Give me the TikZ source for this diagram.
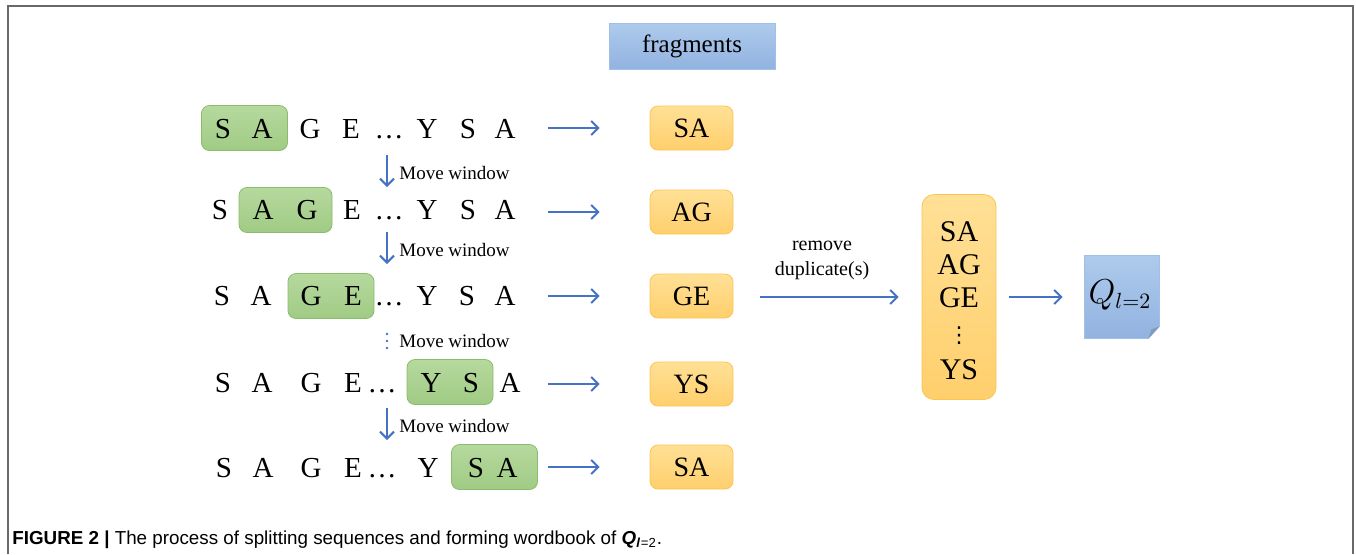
\documentclass[tikz,border=0pt]{standalone}
\usepackage{fontspec}
\setmainfont{Liberation Serif}
\newfontfamily\capfont{Liberation Sans}
\newfontfamily\symfont{DejaVu Sans}
\usetikzlibrary{arrows.meta}

\definecolor{wintop}{RGB}{182,217,158}
\definecolor{winbot}{RGB}{160,203,132}
\definecolor{winline}{RGB}{138,188,108}
\definecolor{fragtop}{RGB}{255,224,150}
\definecolor{fragbot}{RGB}{255,207,108}
\definecolor{fragline}{RGB}{252,196,80}
\definecolor{headtop}{RGB}{174,203,236}
\definecolor{headbot}{RGB}{146,178,224}
\definecolor{headline}{RGB}{160,192,232}
\definecolor{arrowblue}{RGB}{68,114,196}
\definecolor{framegray}{RGB}{105,105,105}

\tikzset{
  win/.style={draw=winline, top color=wintop, bottom color=winbot, rounded corners=4pt,
    minimum width=43pt, minimum height=22.5pt, inner sep=0pt},
  frag/.style={draw=fragline, top color=fragtop, bottom color=fragbot, rounded corners=4pt,
    minimum width=41.5pt, minimum height=22pt, inner sep=0pt, font=\fontsize{14}{16}\selectfont},
  head/.style={draw=headline, top color=headtop, bottom color=headbot,
    minimum width=83pt, minimum height=23pt, inner sep=0pt, font=\fontsize{12.5}{14}\selectfont},
  seq/.style={anchor=base, inner sep=0pt, font=\fontsize{14.5}{17}\selectfont},
  mv/.style={anchor=west, inner sep=0pt, font=\fontsize{9.5}{11}\selectfont},
  flow/.style={draw=arrowblue, line width=1pt, -{Straight Barb[length=3.5pt,width=7pt]}},
  dotline/.style={draw=arrowblue, line width=1.3pt, line cap=round, dash pattern=on 0pt off 3.5pt},
}

\begin{document}
\begin{tikzpicture}[x=0.5pt,y=-0.5pt]
  \useasboundingbox (0,0) rectangle (1356,554);
  % frame
  \draw[framegray, line width=1pt] (8,554) -- (8,6) -- (1353,6) -- (1353,554);
  % header
  \node[head] (head) at (692,46) {fragments};
  % sliding windows
  \node[win] (w1) at (244.5,128) {};
  \node[win, minimum width=46.5pt] (w2) at (285.5,210) {};
  \node[win] (w3) at (331,296) {};
  \node[win] (w4) at (450,382) {};
  \node[win] (w5) at (494.5,467) {};
  % sequences
  \foreach \ch/\x [count=\i] in {S/223, A/262, G/310, E/351, \ldots/389, Y/427, S/468, A/505}
    \node[seq] (a\i) at (\x,138) {\ch};
  \foreach \ch/\x [count=\i] in {S/220, A/263, G/307, E/352, \ldots/389, Y/427, S/468, A/505}
    \node[seq] (b\i) at (\x,219) {\ch};
  \foreach \ch/\x [count=\i] in {S/222, A/261, G/311, E/353, \ldots/389, Y/427, S/467, A/505}
    \node[seq] (c\i) at (\x,305) {\ch};
  \foreach \ch/\x [count=\i] in {S/223, A/262, G/311, E/353, \ldots/382, Y/431, S/471, A/510}
    \node[seq] (d\i) at (\x,392) {\ch};
  \foreach \ch/\x [count=\i] in {S/224, A/263, G/311, E/353, \ldots/382, Y/428, S/476, A/507}
    \node[seq] (e\i) at (\x,477) {\ch};
  % moving the window
  \node[mv] (m1) at (399,173) {Move window};
  \node[mv] (m2) at (399,250) {Move window};
  \node[mv] (m3) at (399,341) {Move window};
  \node[mv] (m4) at (399,426) {Move window};
  \foreach \m in {m1,m2,m4}
    \draw[flow] ([xshift=-6pt,yshift=9pt]\m.west) -- ([xshift=-6pt,yshift=-7pt]\m.west);
  \draw[dotline] ([xshift=-6pt,yshift=3.5pt]m3.west) -- ([xshift=-6pt,yshift=-3.6pt]m3.west);
  % fragments
  \foreach \t/\y [count=\i] in {SA/128, AG/212, GE/296, YS/384, SA/467}
    \node[frag] (f\i) at (691.5,\y) {\t};
  \foreach \i in {1,...,5}
    \draw[flow] ([xshift=-51pt]f\i.west) -- ([xshift=-25pt]f\i.west);
  % unique fragments
  \node[frag, minimum width=37pt, minimum height=102.5pt, rounded corners=6pt] (uniq) at (959,297) {};
  \foreach \t/\y [count=\i] in {SA/232, AG/265, GE/298, YS/370}
    \node[font=\fontsize{15}{17}\selectfont, inner sep=0pt] (u\i) at (959,\y) {\t};
  \node[inner sep=0pt, font=\symfont\fontsize{11}{12}\selectfont] (udots) at (959,336) {⋮};
  \draw[flow] ([xshift=-81pt]uniq.west) -- ([xshift=-11.5pt]uniq.west);
  \node[align=center, font=\fontsize{10}{12.5}\selectfont] (rm) at (822,260) {remove\\duplicate(s)};
  % wordbook
  \node[minimum width=37pt, minimum height=41pt, inner sep=0pt] (note) at (1122,297) {};
  \filldraw[draw=headline, top color=headtop, bottom color=headbot] (note.north west) -- (note.north east)
    -- ([yshift=6pt]note.south east) -- ([xshift=-5.5pt]note.south east) -- (note.south west) -- cycle;
  \fill[headbot!80!black!90] ([yshift=6pt]note.south east) -- ([xshift=-4pt,yshift=4.5pt]note.south east)
    -- ([xshift=-5.5pt]note.south east) -- cycle;
  \node[font=\fontsize{16}{18}\selectfont, inner sep=0pt] (q) at (1120,295) {$Q_{l=2}$};
  \draw[flow] ([xshift=6.5pt]uniq.east) -- ([xshift=-11pt]note.west);
  % caption
  \node[anchor=base west, inner sep=0pt, font=\capfont\fontsize{9.4}{11}\selectfont] (caption) at (12,544)
    {\textbf{FIGURE 2 |} The process of splitting sequences and forming wordbook of
     {\bfseries\itshape Q\textsubscript{l}}\textsubscript{=2}.};
\end{tikzpicture}
\end{document}
